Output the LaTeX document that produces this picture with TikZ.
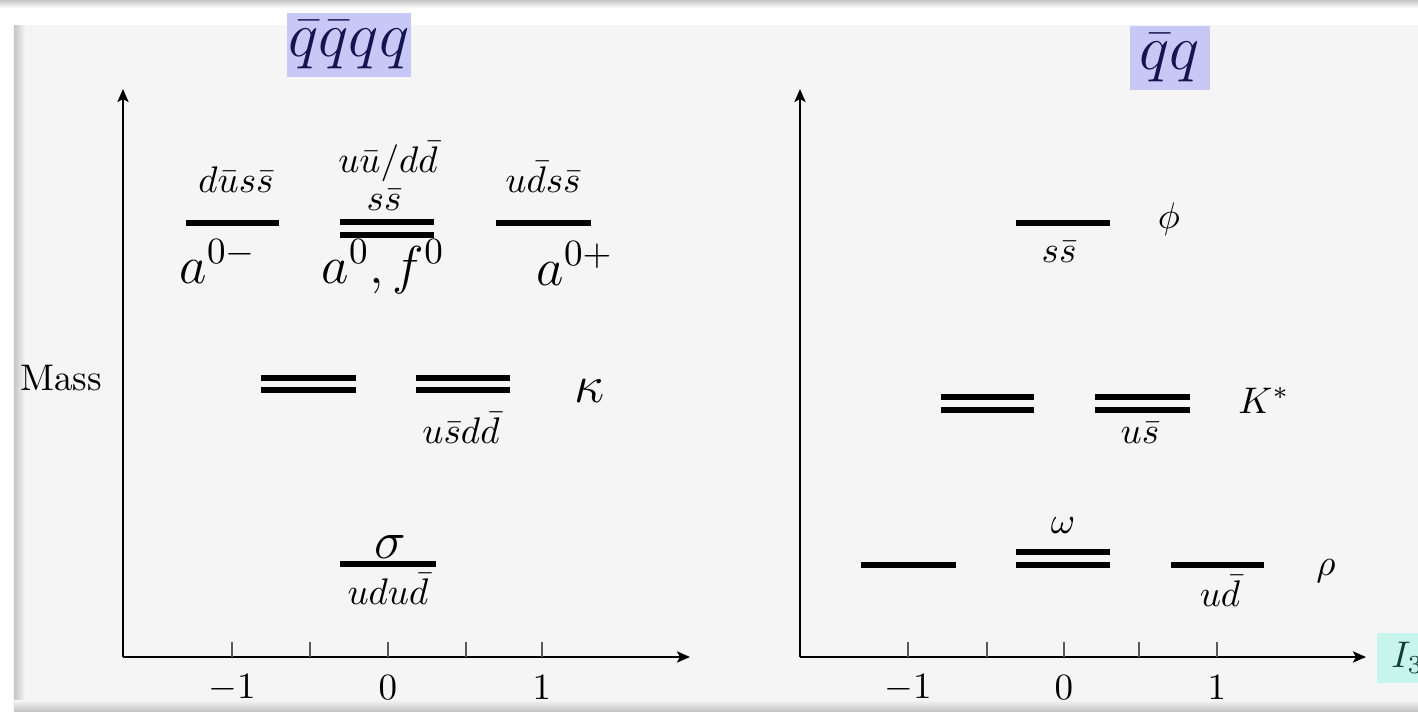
\documentclass[tikz,border=0pt]{standalone}
\usetikzlibrary{arrows.meta}
\definecolor{panel}{RGB}{245,245,245}
\definecolor{lav}{RGB}{200,200,246}
\definecolor{navy}{RGB}{20,20,80}
\definecolor{aqua}{RGB}{200,245,235}
\definecolor{tealtxt}{RGB}{20,60,55}
\begin{document}
\begin{tikzpicture}[x=0.27pt,y=-0.27pt,
  lvl/.style={line width=1.5pt},
  axisline/.style={line width=0.6pt,-{Stealth[length=3.5pt,width=3pt,inset=0.8pt]}},
  tk/.style={line width=0.38pt,black!65},
  lab/.style={anchor=base,inner sep=0pt,font=\normalsize},
  biglab/.style={anchor=base west,inner sep=0pt,font=\Large},
  greek/.style={anchor=base,inner sep=0pt,font=\Large},
  ticklab/.style={anchor=center,inner sep=0pt,font=\normalsize},
  ttl/.style={fill=lav,text=navy,inner sep=0pt,font=\LARGE},
]
\useasboundingbox (0,0) rectangle (1418,718);
\clip (0,0) rectangle (1418,718);
% frame
\fill[white] (0,0) rectangle (1418,718);
\shade[top color=gray!45,bottom color=white] (0,0) rectangle (1418,8);
\fill[panel] (16,25) rectangle (1440,706);
\shade[left color=gray!45,right color=panel] (14,25) rectangle (25,708);
\shade[top color=panel,bottom color=gray!45] (14,700) rectangle (1440,711);

% titles
\node[ttl,minimum width=33.75pt,minimum height=17.5pt] (t1) at (349,45) {$\bar q\bar q qq$};
\node[ttl,minimum width=21.6pt,minimum height=17.3pt] (t2) at (1170,58) {$\bar q q$};

% ---------------- left axes
\coordinate (lo) at (123,657);
\coordinate (lyt) at (123,89);
\coordinate (lxt) at (690,657);
\draw[axisline] (lo) -- (lyt);
\draw[axisline] (lo) -- (lxt);
\foreach \x in {232,310,388,466,542} \draw[tk] (\x,657) -- (\x,642);
\node[ticklab] (lm1) at (232,688) {$-1$};
\node[ticklab] (l0) at (388,688) {$0$};
\node[ticklab] (l1) at (542,688) {$1$};
\node[lab] (mass) at (61,390) {Mass};

% a levels
\draw[lvl] (186,223) -- (279,223);
\draw[lvl] (340,222) -- (434,222);
\draw[lvl] (340,235) -- (434,235);
\draw[lvl] (496,223) -- (591,223);
\node[lab] (dus) at (236,192) {$d\bar u s\bar s$};
\node[lab] (uud) at (388,172) {$u\bar u/d\bar d$};
\node[lab] (ss1) at (384,210) {$s\bar s$};
\node[lab] (uds) at (543,192) {$u\bar d s\bar s$};
\node[biglab] (am) at (179,283) {$a^{0-}$};
\node[biglab] (af) at (321,283) {$a^{0},f^{0}$};
\node[biglab] (ap) at (536,285) {$a^{0+}$};

% kappa
\draw[lvl] (261,378) -- (356,378);
\draw[lvl] (261,390) -- (356,390);
\draw[lvl] (416,378) -- (510,378);
\draw[lvl] (416,390) -- (510,390);
\node[lab] (usdd) at (461,443) {$u\bar s d\bar d$};
\node[greek] (kappa) at (590,402) {$\kappa$};

% sigma
\draw[lvl] (340,564) -- (436,564);
\node[greek] (sigma) at (390,558) {$\sigma$};
\node[lab] (udud) at (388,604) {$udu\bar d$};

% ---------------- right axes
\coordinate (ro) at (800,657);
\coordinate (ryt) at (800,89);
\coordinate (rxt) at (1366,657);
\draw[axisline] (ro) -- (ryt);
\draw[axisline] (ro) -- (rxt);
\foreach \x in {908,987,1064,1139,1217} \draw[tk] (\x,657) -- (\x,642);
\node[ticklab] (rm1) at (908,688) {$-1$};
\node[ticklab] (r0) at (1064,688) {$0$};
\node[ticklab] (r1) at (1217,688) {$1$};
\node[fill=aqua,text=tealtxt,anchor=west,minimum height=13.5pt,minimum width=16pt,inner sep=0pt,text width=13.5pt,font=\normalsize] (i3) at (1376,658) {\hspace*{2.7pt}$I_3$};

% phi
\draw[lvl] (1016,223) -- (1110,223);
\node[lab] (ss2) at (1059,262) {$s\bar s$};
\node[lab] (phi) at (1169,228) {$\phi$};

% K*
\draw[lvl] (941,397) -- (1034,397);
\draw[lvl] (941,410) -- (1034,410);
\draw[lvl] (1095,397) -- (1190,397);
\draw[lvl] (1095,410) -- (1190,410);
\node[lab] (us) at (1140,443) {$u\bar s$};
\node[lab] (kstar) at (1264,413) {$K^*$};

% rho / omega
\draw[lvl] (861,565) -- (956,565);
\draw[lvl] (1016,552) -- (1110,552);
\draw[lvl] (1016,565) -- (1110,565);
\draw[lvl] (1171,565) -- (1264,565);
\node[lab] (omega) at (1063,533) {$\omega$};
\node[lab] (ud) at (1220,606) {$u\bar d$};
\node[lab] (rho) at (1326,575) {$\rho$};
\end{tikzpicture}
\end{document}
